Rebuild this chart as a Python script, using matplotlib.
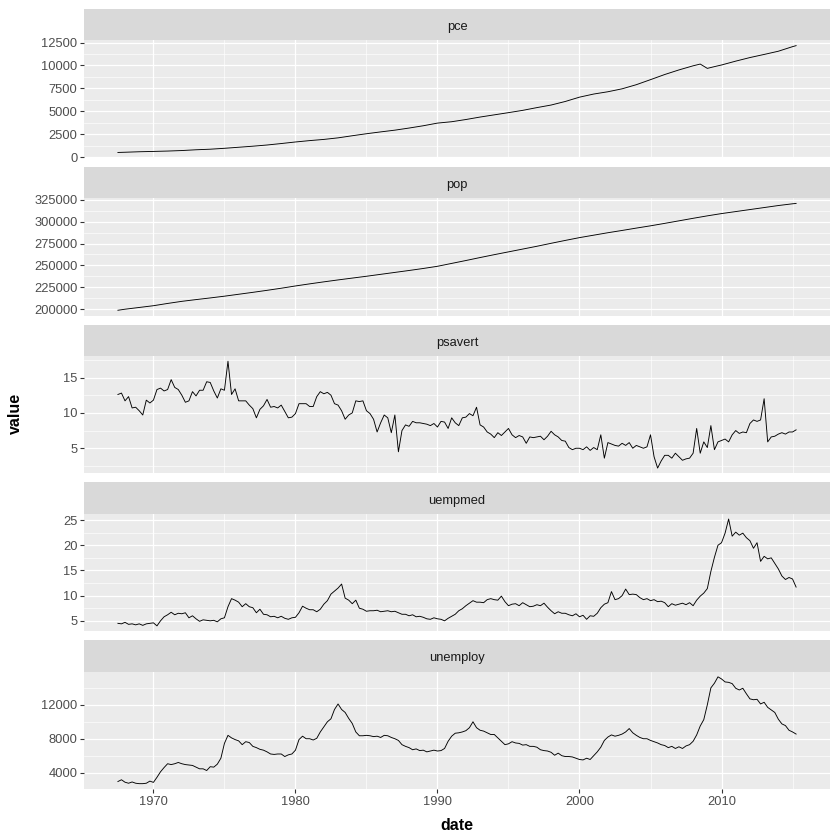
import numpy as np
import matplotlib.pyplot as plt
from matplotlib.ticker import AutoMinorLocator, MultipleLocator

plt.rcParams['font.family'] = ['Liberation Sans', 'DejaVu Sans']

# quarterly grid (Jul 1967 .. Apr 2015) used by the noisy series
quarters = np.arange(1967.5, 2015.3, 0.25)

pce_year = [1967.5, 1968, 1969, 1970, 1971, 1972, 1973, 1974, 1975, 1976, 1977,
            1978, 1979, 1980, 1981, 1982, 1983, 1984, 1985, 1986, 1987, 1988,
            1989, 1990, 1991, 1992, 1993, 1994, 1995, 1996, 1997, 1998, 1999,
            2000, 2001, 2002, 2003, 2004, 2005, 2006, 2007, 2008, 2008.5, 2009,
            2009.5, 2010, 2011, 2012, 2013, 2014, 2015, 2015.25]
pce = [507, 531, 584, 620, 660, 716, 800, 862, 960, 1075, 1190,
       1320, 1480, 1650, 1800, 1930, 2100, 2330, 2550, 2750, 2940, 3170,
       3420, 3710, 3860, 4100, 4370, 4610, 4850, 5100, 5400, 5680, 6070,
       6540, 6880, 7130, 7450, 7900, 8450, 9010, 9510, 9960, 10150, 9680,
       9870, 10050, 10470, 10860, 11200, 11550, 12050, 12160]

pop_year = [1967.5, 1968, 1969, 1970, 1971, 1972, 1973, 1974, 1975, 1976, 1977,
            1978, 1979, 1980, 1981, 1982, 1983, 1984, 1985, 1986, 1987, 1988,
            1989, 1990, 1991, 1992, 1993, 1994, 1995, 1996, 1997, 1998, 1999,
            2000, 2001, 2002, 2003, 2004, 2005, 2006, 2007, 2008, 2009, 2010,
            2011, 2012, 2013, 2014, 2015, 2015.25]
pop = [198700, 199900, 201900, 203900, 206500, 208900, 210900, 212800, 214800,
       217000, 219200, 221500, 223900, 226500, 228900, 231200, 233400, 235500,
       237600, 239800, 242000, 244200, 246500, 249000, 252300, 255600, 259000,
       262300, 265500, 268700, 271900, 275300, 278600, 281800, 284600, 287400,
       290000, 292700, 295300, 298100, 301000, 303900, 306700, 309300, 311600,
       313900, 316200, 318500, 320500, 320900]

psavert = [
    12.6, 12.8,
    11.7, 12.3, 10.7, 10.8,
    10.3, 9.7, 11.8, 11.4,
    11.8, 13.3, 13.5, 13.1,
    13.3, 14.7, 13.6, 13.3,
    12.5, 11.5, 11.7, 13.0,
    12.4, 13.2, 13.2, 14.4,
    14.3, 13.1, 12.1, 13.4,
    13.2, 17.3, 12.6, 13.4,
    11.7, 11.7, 11.7, 11.1,
    10.6, 9.3, 10.5, 11.0,
    11.9, 10.8, 10.9, 10.7,
    11.1, 10.2, 9.3, 9.4,
    9.9, 11.3, 11.3, 11.3,
    10.9, 10.9, 12.3, 13.0,
    12.7, 12.9, 12.5, 11.3,
    11.1, 10.3, 9.1, 9.7,
    10.0, 11.7, 11.6, 11.7,
    10.3, 9.9, 9.1, 7.3,
    8.6, 9.7, 9.3, 7.2,
    9.7, 4.5, 7.5, 8.3,
    8.1, 8.8, 8.6, 8.6,
    8.5, 8.4, 8.2, 8.5,
    8.0, 8.8, 8.7, 7.8,
    9.3, 8.6, 8.2, 9.3,
    9.4, 9.9, 9.6, 10.8,
    8.3, 8.0, 7.3, 7.0,
    6.5, 7.2, 6.8, 7.3,
    7.8, 6.9, 6.5, 6.8,
    6.6, 5.7, 6.6, 6.5,
    6.6, 6.7, 6.2, 6.7,
    7.4, 6.9, 6.6, 6.1,
    6.0, 5.1, 4.8, 5.0,
    5.0, 4.8, 5.2, 4.7,
    5.1, 4.8, 6.9, 3.6,
    5.8, 5.6, 5.4, 5.3,
    5.7, 5.4, 5.8, 5.0,
    5.4, 5.2, 5.0, 5.2,
    6.9, 3.8, 2.2, 3.2,
    4.0, 4.0, 3.6, 4.3,
    3.8, 3.3, 3.5, 3.6,
    4.3, 7.8, 4.3, 5.9,
    5.1, 8.2, 4.8, 5.9,
    6.1, 6.3, 5.9, 6.9,
    7.5, 7.1, 7.3, 7.2,
    8.5, 9.0, 8.8, 9.0,
    12.0, 5.9, 6.6, 6.7,
    7.0, 7.2, 7.0, 7.3,
    7.3, 7.6]

uempmed = [
    4.5, 4.4,
    4.7, 4.3, 4.4, 4.2,
    4.4, 4.1, 4.4, 4.5,
    4.6, 4.0, 5.0, 5.8,
    6.2, 6.7, 6.2, 6.5,
    6.4, 6.6, 5.6, 6.0,
    5.4, 4.9, 5.2, 5.1,
    5.0, 5.1, 4.8, 5.4,
    5.6, 7.8, 9.4, 9.1,
    8.7, 7.8, 8.4, 7.8,
    7.6, 6.6, 7.3, 6.3,
    6.2, 5.8, 5.9, 5.6,
    5.9, 5.5, 5.3, 5.6,
    5.7, 6.6, 7.9, 7.5,
    7.2, 7.2, 6.8, 7.3,
    8.3, 9.0, 10.3, 10.9,
    11.5, 12.3, 9.5, 9.1,
    8.4, 9.1, 7.5, 7.3,
    6.9, 7.0, 7.0, 7.1,
    6.8, 6.9, 7.0, 6.8,
    6.9, 6.6, 6.3, 6.3,
    6.0, 6.2, 5.8, 5.9,
    5.7, 5.4, 5.3, 5.6,
    5.4, 5.3, 5.0, 5.5,
    5.9, 6.3, 7.0, 7.4,
    8.0, 8.5, 9.0, 8.7,
    8.7, 8.6, 9.2, 9.4,
    9.2, 9.1, 9.9, 8.8,
    8.0, 8.3, 8.4, 8.0,
    8.6, 8.2, 7.8, 7.9,
    8.2, 8.0, 8.5, 7.7,
    7.0, 6.4, 6.8, 6.5,
    6.5, 6.2, 6.0, 6.4,
    5.8, 6.1, 5.3, 6.0,
    5.9, 6.5, 7.6, 8.3,
    8.6, 10.8, 9.2, 9.4,
    10.0, 11.3, 10.2, 10.3,
    10.2, 9.6, 9.2, 9.4,
    9.0, 9.2, 8.8, 8.9,
    8.6, 7.8, 8.4, 8.1,
    8.3, 8.5, 8.2, 8.6,
    8.0, 9.1, 9.9, 10.5,
    11.4, 14.8, 17.6, 20.0,
    20.5, 22.4, 25.2, 21.8,
    22.6, 22.0, 22.4, 21.5,
    20.9, 19.4, 20.5, 16.8,
    17.8, 17.3, 17.5, 16.4,
    15.3, 13.9, 13.2, 13.6,
    13.3, 11.7]

unemploy = [
    2950, 3160,
    2870, 2750, 2900, 2750,
    2700, 2700, 2750, 3000,
    2850, 3450, 4100, 4600,
    5050, 4950, 5050, 5200,
    5050, 4950, 4900, 4850,
    4650, 4450, 4450, 4250,
    4700, 4650, 5000, 5700,
    7450, 8400, 8100, 7900,
    7750, 7300, 7650, 7550,
    7100, 6950, 6750, 6650,
    6450, 6200, 6150, 6200,
    6200, 5900, 6100, 6200,
    6650, 7900, 8300, 8000,
    8000, 7850, 8050, 8800,
    9400, 10000, 10350, 11450,
    12100, 11450, 11100, 10400,
    9800, 8800, 8350, 8350,
    8400, 8350, 8250, 8300,
    8150, 8400, 8350, 8150,
    8000, 7800, 7300, 7100,
    6950, 6700, 6800, 6600,
    6650, 6450, 6550, 6650,
    6550, 6600, 6850, 7700,
    8300, 8650, 8700, 8800,
    8950, 9300, 10000, 9300,
    9000, 8900, 8700, 8500,
    8500, 8100, 7700, 7300,
    7400, 7650, 7500, 7450,
    7250, 7300, 7100, 7100,
    7000, 6700, 6600, 6550,
    6400, 6050, 6300, 6000,
    5900, 5900, 5850, 5700,
    5550, 5500, 5700, 5550,
    6000, 6450, 7000, 7800,
    8200, 8450, 8300, 8400,
    8550, 8800, 9200, 8700,
    8400, 8150, 8000, 8000,
    7800, 7650, 7500, 7300,
    7200, 6950, 7100, 6850,
    7050, 6850, 7150, 7300,
    7700, 8450, 9500, 10250,
    12000, 14000, 14550, 15300,
    15050, 14700, 14650, 14500,
    13950, 13750, 13950, 13300,
    12700, 12600, 12650, 12100,
    12300, 11700, 11400, 11100,
    10300, 9750, 9550, 9000,
    8800, 8550]

panels = [
    ("pce", pce_year, pce, [0, 2500, 5000, 7500, 10000, 12500]),
    ("pop", pop_year, pop, [200000, 225000, 250000, 275000, 300000, 325000]),
    ("psavert", quarters, psavert, [5, 10, 15]),
    ("uempmed", quarters, uempmed, [5, 10, 15, 20, 25]),
    ("unemploy", quarters, unemploy, [4000, 8000, 12000]),
]
year_ticks = [1970, 1980, 1990, 2000, 2010]

W = H = 840.0
left, right = 84, 830
x0, x1 = 1967.5, 2015.25
xpad = (x1 - x0) * 0.05

fig = plt.figure(figsize=(8.4, 8.4), dpi=100)

for k, (name, xs, ys, yt) in enumerate(panels):
    strip_top = 9 + k * 157.8
    strip_h = 31.3
    plot_h = 117.5
    ax = fig.add_axes([left / W, 1 - (strip_top + strip_h + plot_h) / H,
                       (right - left) / W, plot_h / H])
    st = fig.add_axes([left / W, 1 - (strip_top + strip_h) / H,
                       (right - left) / W, strip_h / H])
    st.set_facecolor("#D9D9D9")
    st.set_xticks([])
    st.set_yticks([])
    for s in st.spines.values():
        s.set_visible(False)
    st.text(0.5, 0.42, name, ha="center", va="center", fontsize=9.3,
            color="#1A1A1A", transform=st.transAxes)

    ax.set_facecolor("#EBEBEB")
    for s in ax.spines.values():
        s.set_visible(False)
    ax.plot(xs, ys, color="black", lw=0.65)

    lo, hi = min(ys), max(ys)
    pad = (hi - lo) * 0.05
    ax.set_ylim(lo - pad, hi + pad)
    ax.set_xlim(x0 - xpad, x1 + xpad)
    ax.set_yticks(yt)
    ax.yaxis.set_minor_locator(AutoMinorLocator(2))
    ax.set_xticks(year_ticks)
    ax.xaxis.set_minor_locator(MultipleLocator(5))
    ax.grid(which="major", color="white", lw=0.9)
    ax.grid(which="minor", color="white", lw=0.45)
    ax.set_axisbelow(True)
    ax.tick_params(which="minor", length=0)
    ax.tick_params(which="major", length=2.7, width=0.8, color="#333333",
                   labelcolor="#4D4D4D", labelsize=9.3, pad=2)
    if k < len(panels) - 1:
        ax.tick_params(axis="x", which="major", length=0, labelbottom=False)

fig.text(15 / W, 1 - 413 / H, "value", rotation=90, ha="center", va="center",
         fontsize=11.5, fontweight="bold")
fig.text((left + right) / 2 / W, 1 - 825 / H, "date", ha="center", va="center",
         fontsize=11.5, fontweight="bold")

fig.savefig("out.png", dpi=100)
